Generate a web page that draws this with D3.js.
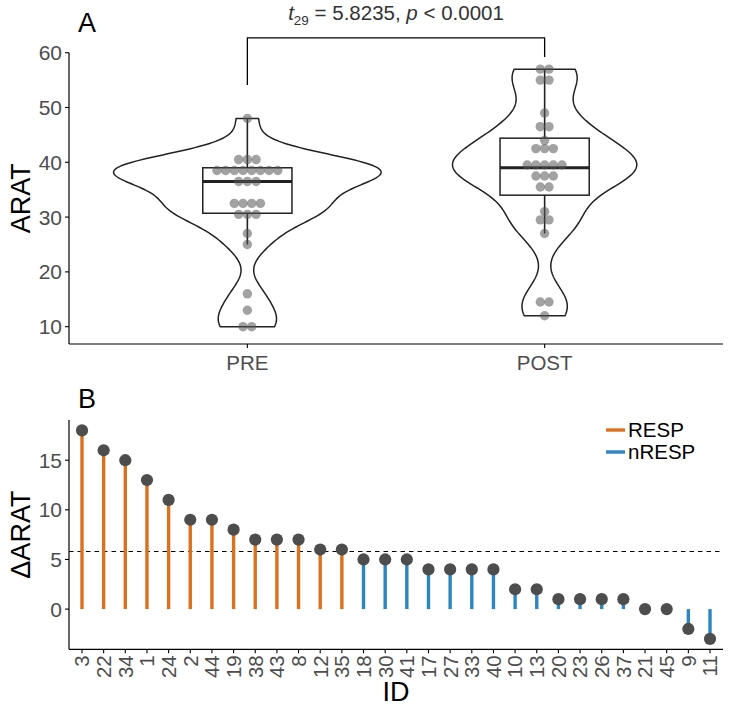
<!DOCTYPE html>
<html>
<head>
<meta charset="utf-8">
<script src="https://cdn.jsdelivr.net/npm/d3@7"></script>
<style>
  html, body { margin: 0; padding: 0; background: #fff; }
  svg { display: block; font-family: "Liberation Sans", Arial, Helvetica, sans-serif; }
</style>
</head>
<body>
<svg id="chart" width="731" height="708"></svg>
<script>
// ---------------- DATA ----------------
// Panel A: dot-plot rows (bin value, number of dots)
const groups = ["PRE", "POST"];
const preRowValues  = [48, 40.5, 38.5, 36.5, 32.5, 30.5, 27, 25, 16, 13, 10];
const preRowCounts  = [1, 3, 8, 3, 4, 3, 1, 1, 1, 1, 2];
const postRowValues = [57, 55, 49, 46.5, 44, 42.5, 39.5, 37.5, 35.5, 31, 29.5, 27, 14.5, 12];
const postRowCounts = [2, 2, 1, 2, 1, 3, 5, 3, 2, 1, 2, 1, 2, 1];
// box stats: [lower whisker, Q1, median, Q3, upper whisker]
const preBox  = [25, 30.7, 36.5, 39.0, 48];
const postBox = [27, 34.0, 39.0, 44.4, 57];
const yTicksA = [10, 20, 30, 40, 50, 60];
const statLabel = { df: "29", t: "5.8235", p: "0.0001" };

// Panel B
const ids = ["3","22","34","1","24","2","44","19","38","43","8","12","35","18","30",
             "41","17","27","33","40","10","13","20","23","26","37","21","45","9","11"];
const deltaARAT = [18,16,15,13,11,9,9,8,7,7,7,6,6,5,5,5,4,4,4,4,2,2,1,1,1,1,0,0,-2,-3];
const responder = ["RESP","RESP","RESP","RESP","RESP","RESP","RESP","RESP","RESP","RESP","RESP","RESP","RESP",
                   "nRESP","nRESP","nRESP","nRESP","nRESP","nRESP","nRESP","nRESP","nRESP","nRESP","nRESP",
                   "nRESP","nRESP","nRESP","nRESP","nRESP","nRESP"];
const respThreshold = 5.8;
const yTicksB = [0, 5, 10, 15];
const legendKeys = ["RESP", "nRESP"];

// ---------------- SETUP ----------------
const svg = d3.select("#chart");
svg.append("rect").attr("width", 731).attr("height", 708).attr("fill", "#fff");

const AX = "#000", TICKCOL = "#4D4D4D";
const colors = d3.scaleOrdinal().domain(legendKeys).range(["#D9711E", "#2E86C0"]);

function expand(vals, counts) {
  const out = [];
  vals.forEach((v, i) => { for (let k = 0; k < counts[i]; k++) out.push(v); });
  return out;
}
const rawData = { PRE: expand(preRowValues, preRowCounts), POST: expand(postRowValues, postRowCounts) };
const rows = { PRE: preRowValues.map((v, i) => ({ v, n: preRowCounts[i] })),
               POST: postRowValues.map((v, i) => ({ v, n: postRowCounts[i] })) };
const boxes = { PRE: preBox, POST: postBox };

// ---------------- PANEL A ----------------
const A = { left: 69, right: 723, top: 52.7, bottom: 344 };
const xA = d3.scaleBand().domain(groups)
  .range([A.left + 0.1 * (A.right - A.left) / 2.2, A.right - 0.1 * (A.right - A.left) / 2.2]);
const unitA = xA.bandwidth();
const xPos = g => xA(g) + unitA / 2;
const yA = d3.scaleLinear().domain([6.84, 60]).range([A.bottom, A.top]);

const gA = svg.append("g");

// violins (KDE, nrd0 bandwidth, area scaling)
function nrd0(v) {
  const s = d3.deviation(v);
  const sorted = v.slice().sort(d3.ascending);
  const iqr = d3.quantileSorted(sorted, 0.75) - d3.quantileSorted(sorted, 0.25);
  let lo = Math.min(s, iqr / 1.34);
  if (!(lo > 0)) lo = s || Math.abs(v[0]) || 1;
  return 0.9 * lo * Math.pow(v.length, -0.2);
}
function kdeAt(v, bw, y) {
  let s = 0;
  for (const x of v) { const u = (y - x) / bw; s += Math.exp(-0.5 * u * u); }
  return s / (v.length * bw * Math.sqrt(2 * Math.PI));
}
const dens = {};
groups.forEach(g => {
  const v = rawData[g], bw = nrd0(v);
  const [mn, mx] = d3.extent(v);
  dens[g] = d3.range(0, 201).map(i => { const y = mn + (mx - mn) * i / 200; return { y, d: kdeAt(v, bw, y) }; });
});
const maxD = d3.max(groups, g => d3.max(dens[g], p => p.d));
const halfMax = 0.45 * unitA;
groups.forEach(g => {
  const cx = xPos(g);
  const pts = dens[g];
  const left = pts.map(p => [cx - p.d / maxD * halfMax, yA(p.y)]);
  const right = pts.slice().reverse().map(p => [cx + p.d / maxD * halfMax, yA(p.y)]);
  gA.append("path")
    .attr("d", d3.line()(left.concat(right)) + "Z")
    .attr("fill", "none").attr("stroke", "#222").attr("stroke-width", 1.5);
});

// boxplots
const boxHalf = 0.15 * unitA;
groups.forEach(g => {
  const b = boxes[g], cx = xPos(g);
  gA.append("line").attr("x1", cx).attr("x2", cx).attr("y1", yA(b[0])).attr("y2", yA(b[1]))
    .attr("stroke", "#222").attr("stroke-width", 1.6);
  gA.append("line").attr("x1", cx).attr("x2", cx).attr("y1", yA(b[3])).attr("y2", yA(b[4]))
    .attr("stroke", "#222").attr("stroke-width", 1.6);
  gA.append("rect").attr("x", cx - boxHalf).attr("width", 2 * boxHalf)
    .attr("y", yA(b[3])).attr("height", yA(b[1]) - yA(b[3]))
    .attr("fill", "none").attr("stroke", "#222").attr("stroke-width", 1.5);
  gA.append("line").attr("x1", cx - boxHalf).attr("x2", cx + boxHalf)
    .attr("y1", yA(b[2])).attr("y2", yA(b[2]))
    .attr("stroke", "#222").attr("stroke-width", 3);
});

// dotplot
const dotR = 4.7, dotStep = 8.7;
groups.forEach(g => {
  const cx = xPos(g);
  rows[g].forEach(r => {
    for (let k = 0; k < r.n; k++) {
      gA.append("circle")
        .attr("cx", cx + (k - (r.n - 1) / 2) * dotStep)
        .attr("cy", yA(r.v)).attr("r", dotR)
        .attr("fill", "#555").attr("fill-opacity", 0.55);
    }
  });
});

// axes A
gA.append("line").attr("x1", A.left).attr("x2", A.left).attr("y1", A.top).attr("y2", A.bottom)
  .attr("stroke", AX).attr("stroke-width", 1.2);
gA.append("line").attr("x1", A.left).attr("x2", A.right).attr("y1", A.bottom).attr("y2", A.bottom)
  .attr("stroke", AX).attr("stroke-width", 1.2);
yTicksA.forEach(t => {
  gA.append("line").attr("x1", A.left - 4).attr("x2", A.left).attr("y1", yA(t)).attr("y2", yA(t))
    .attr("stroke", AX).attr("stroke-width", 1.1);
  gA.append("text").attr("x", A.left - 7).attr("y", yA(t)).attr("dy", "0.36em")
    .attr("text-anchor", "end").attr("font-size", 21).attr("fill", TICKCOL).text(t);
});
groups.forEach(g => {
  gA.append("line").attr("x1", xPos(g)).attr("x2", xPos(g)).attr("y1", A.bottom).attr("y2", A.bottom + 4)
    .attr("stroke", AX).attr("stroke-width", 1.1);
  gA.append("text").attr("x", xPos(g)).attr("y", A.bottom + 26)
    .attr("text-anchor", "middle").attr("font-size", 20.5).attr("fill", TICKCOL).text(g);
});
gA.append("text").attr("transform", `translate(30,${(A.top + A.bottom) / 2}) rotate(-90)`)
  .attr("text-anchor", "middle").attr("font-size", 27).attr("fill", "#000").text("ARAT");
svg.append("text").attr("x", 78).attr("y", 32).attr("font-size", 27).attr("fill", "#000").text("A");

// significance bracket
const brY = 62.7, tipPre = 54.1, tipPost = 59.2;
gA.append("path")
  .attr("d", `M${xPos("PRE")},${yA(tipPre)}V${yA(brY)}H${xPos("POST")}V${yA(tipPost)}`)
  .attr("fill", "none").attr("stroke", "#000").attr("stroke-width", 1.3);
const st = gA.append("text").attr("x", (xPos("PRE") + xPos("POST")) / 2).attr("y", 20)
  .attr("text-anchor", "middle").attr("font-size", 20.5).attr("fill", "#333");
st.append("tspan").attr("font-style", "italic").text("t");
st.append("tspan").attr("font-size", 13.5).attr("dy", 5).text(statLabel.df);
st.append("tspan").attr("dy", -5).text(` = ${statLabel.t}, `);
st.append("tspan").attr("font-style", "italic").text("p");
st.append("tspan").text(` < ${statLabel.p}`);

// ---------------- PANEL B ----------------
const B = { left: 69, right: 723, top: 420, bottom: 649.3 };
const unitB = (B.right - B.left) / (ids.length + 0.2);
const xB = d3.scaleBand().domain(ids).range([B.left + 0.1 * unitB, B.right - 0.1 * unitB]);
const xc = id => xB(id) + xB.bandwidth() / 2;
const yB = d3.scaleLinear().domain([-4.05, 19.05]).range([B.bottom, B.top]);
const gB = svg.append("g");

// dashed threshold
gB.append("line").attr("x1", B.left).attr("x2", B.right)
  .attr("y1", yB(respThreshold)).attr("y2", yB(respThreshold))
  .attr("stroke", "#000").attr("stroke-width", 1.2).attr("stroke-dasharray", "4.5,4");

// stems
ids.forEach((id, i) => {
  gB.append("line").attr("x1", xc(id)).attr("x2", xc(id))
    .attr("y1", yB(0)).attr("y2", yB(deltaARAT[i]))
    .attr("stroke", colors(responder[i])).attr("stroke-width", 3.4);
});
// points
ids.forEach((id, i) => {
  gB.append("circle").attr("cx", xc(id)).attr("cy", yB(deltaARAT[i])).attr("r", 6.1)
    .attr("fill", "#4D4D4D");
});

// axes B
gB.append("line").attr("x1", B.left).attr("x2", B.left).attr("y1", B.top).attr("y2", B.bottom)
  .attr("stroke", AX).attr("stroke-width", 1.2);
gB.append("line").attr("x1", B.left).attr("x2", B.right).attr("y1", B.bottom).attr("y2", B.bottom)
  .attr("stroke", AX).attr("stroke-width", 1.2);
yTicksB.forEach(t => {
  gB.append("line").attr("x1", B.left - 4).attr("x2", B.left).attr("y1", yB(t)).attr("y2", yB(t))
    .attr("stroke", AX).attr("stroke-width", 1.1);
  gB.append("text").attr("x", B.left - 7).attr("y", yB(t)).attr("dy", "0.36em")
    .attr("text-anchor", "end").attr("font-size", 21).attr("fill", TICKCOL).text(t);
});
ids.forEach(id => {
  gB.append("line").attr("x1", xc(id)).attr("x2", xc(id)).attr("y1", B.bottom).attr("y2", B.bottom + 4)
    .attr("stroke", AX).attr("stroke-width", 1.1);
  gB.append("text").attr("transform", `translate(${xc(id)},${B.bottom + 6}) rotate(-90)`)
    .attr("dy", "0.36em").attr("text-anchor", "end").attr("font-size", 20.5).attr("fill", TICKCOL).text(id);
});
gB.append("text").attr("transform", `translate(30,${(B.top + B.bottom) / 2}) rotate(-90)`)
  .attr("text-anchor", "middle").attr("font-size", 27).attr("fill", "#000").text("ΔARAT");
gB.append("text").attr("x", (B.left + B.right) / 2).attr("y", 701)
  .attr("text-anchor", "middle").attr("font-size", 27).attr("fill", "#000").text("ID");
svg.append("text").attr("x", 78).attr("y", 408).attr("font-size", 27).attr("fill", "#000").text("B");

// legend
legendKeys.forEach((k, i) => {
  const y = 430 + i * 22;
  gB.append("line").attr("x1", 606).attr("x2", 625).attr("y1", y).attr("y2", y)
    .attr("stroke", colors(k)).attr("stroke-width", 3.4);
  gB.append("text").attr("x", 628).attr("y", y).attr("dy", "0.36em")
    .attr("font-size", 20.5).attr("fill", "#000").text(k);
});
</script>
</body>
</html>
